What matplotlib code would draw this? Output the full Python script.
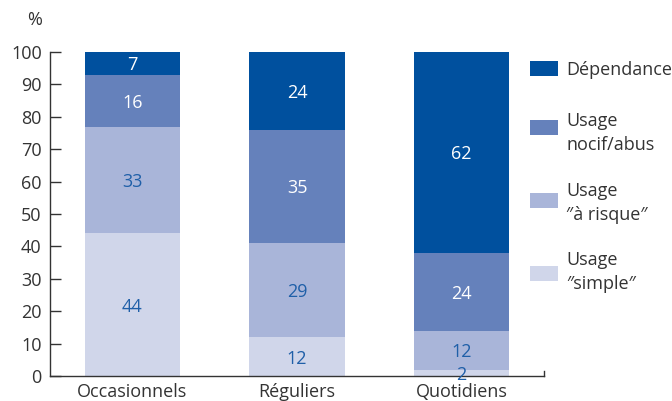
import matplotlib.pyplot as plt
from matplotlib.patches import Rectangle

plt.rcParams['font.family'] = ['Open Sans', 'DejaVu Sans']

# categories and stacked shares (%), bottom to top
categories = ["Occasionnels", "Réguliers", "Quotidiens"]
simple = [44, 12, 2]
risque = [33, 29, 12]
nocif = [16, 35, 24]
dependance = [7, 24, 62]

series = [simple, risque, nocif, dependance]
colors = ["#d0d6ea", "#a9b5d9", "#6581bb", "#00509e"]
label_colors = ["#1f5fa8", "#1f5fa8", "white", "white"]
legend_labels = ["Dépendance", "Usage\nnocif/abus", "Usage\n\u2033à risque\u2033", "Usage\n\u2033simple\u2033"]

text_col = "#333333"
fs = 13

fig = plt.figure(figsize=(6.72, 4.01), dpi=100)
ax = fig.add_axes([50 / 672, 25 / 401, 494 / 672, 324 / 401])

x = range(len(categories))
bottom = [0] * len(categories)
for vals, col, lcol in zip(series, colors, label_colors):
    ax.bar(x, vals, bottom=bottom, width=0.58, color=col, linewidth=0)
    for i, v in enumerate(vals):
        ax.text(i, bottom[i] + v / 2, str(v), ha="center", va="center_baseline",
                fontsize=fs, color=lcol)
    bottom = [b + v for b, v in zip(bottom, vals)]

ax.set_xlim(-0.5, 2.5)
ax.set_ylim(0, 100)
ax.set_yticks(range(0, 101, 10))
ax.set_xticks(list(x))
ax.set_xticklabels(categories)
ax.tick_params(axis="y", direction="in", length=8, width=1, colors=text_col,
               labelsize=fs, pad=6)
ax.tick_params(axis="x", length=0, labelsize=fs, colors=text_col, pad=5)
for s in ["top", "right"]:
    ax.spines[s].set_visible(False)
for s in ["left", "bottom"]:
    ax.spines[s].set_color(text_col)
    ax.spines[s].set_linewidth(1)
# small upward tick closing the x axis
ax.plot([2.5, 2.5], [0, 1.5], color=text_col, lw=1, clip_on=False)

fig.text(35 / 672, 1 - 20 / 401, "%", ha="center", va="center",
         fontsize=fs, color=text_col)

# legend drawn by hand, top to bottom
patch_y = [68.5, 127, 200, 273]
text_y = [70, 133, 203, 272]
for lab, col, py, ty in zip(legend_labels, colors[::-1], patch_y, text_y):
    fig.patches.append(Rectangle((530 / 672, 1 - (py + 7.5) / 401), 28 / 672, 15 / 401,
                                 transform=fig.transFigure, color=col, linewidth=0))
    fig.text(566 / 672, 1 - ty / 401, lab, ha="left", va="center",
             fontsize=fs, color=text_col, linespacing=1.45)

fig.savefig("out.png", dpi=100)
